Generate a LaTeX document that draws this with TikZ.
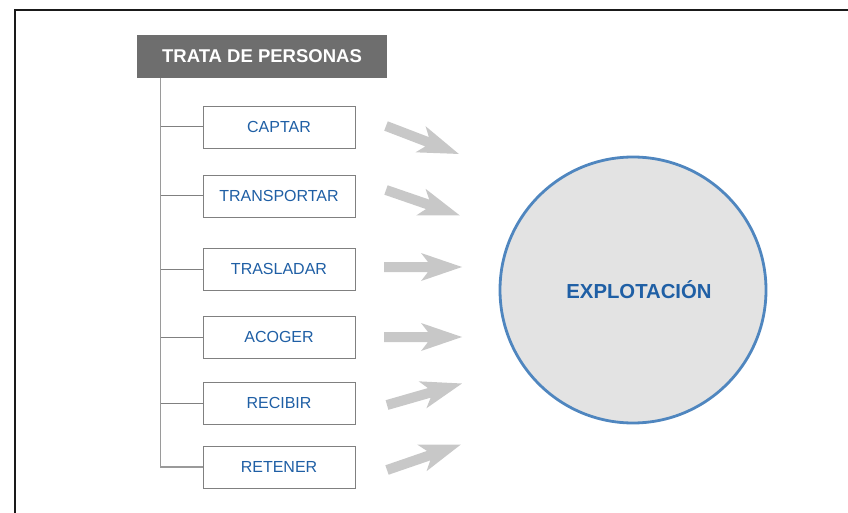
\documentclass[tikz,border=0pt]{standalone}
\usepackage{fontspec}
\setmainfont{Liberation Sans}
\definecolor{hdrgray}{HTML}{6E6E6E}
\definecolor{boxline}{HTML}{808080}
\definecolor{trunkc}{HTML}{9A9A9A}
\definecolor{arrowc}{HTML}{C8C8C8}
\definecolor{txtblue}{HTML}{1F5FA5}
\definecolor{circfill}{HTML}{E3E3E3}
\definecolor{circline}{HTML}{4F86BF}
\definecolor{framec}{HTML}{1A1A1A}
\begin{document}
\begin{tikzpicture}[x=1pt,y=-1pt,
  hdrbox/.style={rectangle, fill=hdrgray, text=white, font=\fontsize{18.5}{21}\selectfont\bfseries, minimum width=250pt, minimum height=43pt, inner sep=0pt},
  actbox/.style={rectangle, draw=boxline, line width=0.8pt, fill=white, text=txtblue, font=\fontsize{16}{19}\selectfont, minimum width=152pt, minimum height=42pt, inner sep=0pt},
  treeline/.style={draw=trunkc, line width=1.2pt},
  branchline/.style={draw=boxline, line width=1pt},
  framel/.style={draw=framec, line width=2pt},
  blockarrow/.pic={\fill[arrowc] (0,-5) -- (44,-5) -- (37,-14) -- (78,0) -- (37,14) -- (44,5) -- (0,5) -- cycle;}
]
\useasboundingbox (0,0) rectangle (848,513);
\draw[framel] (848,10) -- (15,10) -- (15,513);

\node[hdrbox] (hdr) at (262,56.5) {TRATA DE PERSONAS};
\node[actbox] (b1) at (279,127) {CAPTAR};
\node[actbox] (b2) at (279,196) {TRANSPORTAR};
\node[actbox] (b3) at (279,269) {TRASLADAR};
\node[actbox] (b4) at (279,337) {ACOGER};
\node[actbox] (b5) at (279,403) {RECIBIR};
\node[actbox] (b6) at (279,467) {RETENER};

\coordinate (tk) at ([xshift=24pt]hdr.south west);
\draw[treeline] (tk) |- (b6.west);
\foreach \b in {b1,b2,b3,b4,b5}{
  \draw[branchline] (tk |- \b.west) -- (\b.west);
}

\node[circle, draw=circline, line width=2.8pt, fill=circfill, minimum size=266pt, inner sep=0pt] (expl) at (633,290) {};
\node[text=txtblue, font=\fontsize{20.3}{24}\selectfont\bfseries, inner sep=0pt] (expltxt) at ([xshift=6pt]expl.center) {EXPLOTACIÓN};

\path (386,126) pic[rotate=-21] {blockarrow};
\path (386,190) pic[rotate=-19] {blockarrow};
\path (384,267) pic {blockarrow};
\path (384,337) pic {blockarrow};
\path (387,405) pic[rotate=16] {blockarrow};
\path (387,470) pic[rotate=19] {blockarrow};
\end{tikzpicture}
\end{document}
